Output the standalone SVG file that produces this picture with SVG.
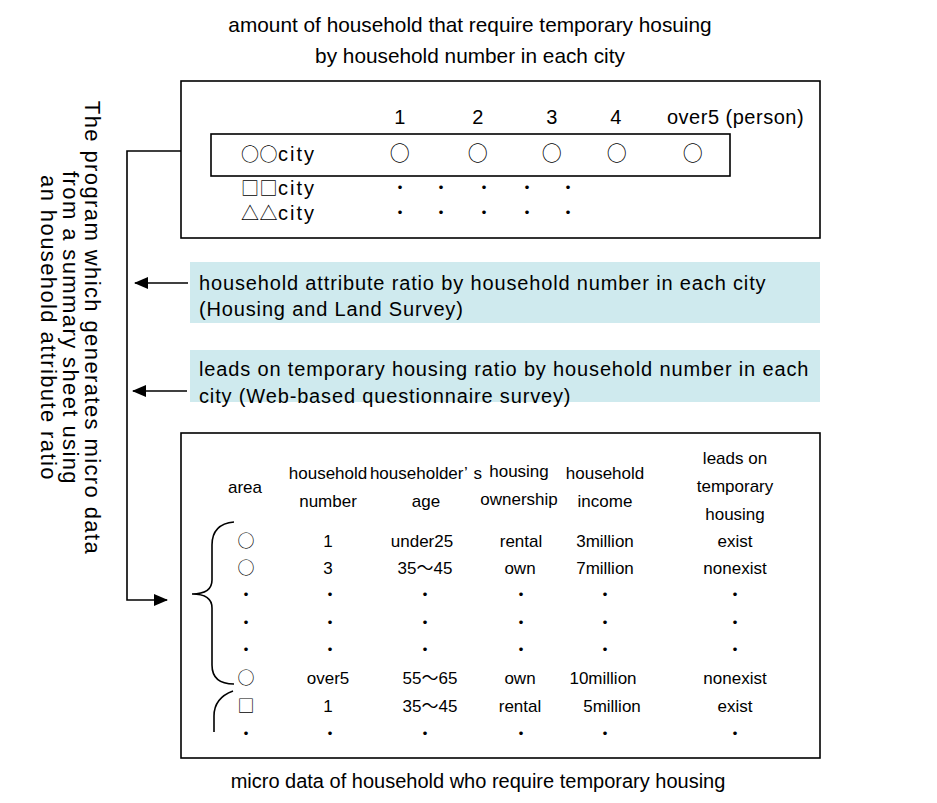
<svg xmlns="http://www.w3.org/2000/svg" width="937" height="803" viewBox="0 0 937 803">
<style>
text{font-family:"Liberation Sans","Noto Sans CJK JP",sans-serif;fill:#000}
.t{font-size:20.8px}
.cap{font-size:20px}
.v{font-size:22px;letter-spacing:1.4px}
.u{font-size:20px;letter-spacing:0.5px}
.q{font-size:20px;letter-spacing:0.85px}
.s{font-size:17px}
.m{text-anchor:middle}
.cjk{font-family:"Noto Sans CJK JP","Liberation Sans",sans-serif}
.box{fill:#fff;stroke:#000;stroke-width:1.6}
.teal{fill:#cfeaee}
.ln{fill:none;stroke:#000;stroke-width:1.6}
</style>
<defs>
<marker id="ah" markerUnits="userSpaceOnUse" markerWidth="14" markerHeight="12" refX="13" refY="6" orient="auto">
<path d="M0,0 L14,6 L0,12 Z" fill="#000"/>
</marker>
</defs>

<g id="title">
<text class="t m" x="470" y="32">amount of household that require temporary hosuing</text>
<text class="t m" x="470" y="63">by household number in each city</text>
</g>

<g id="program-label">
<text class="v m" transform="translate(85,328) rotate(90)">The program which generates micro data</text>
<text class="v m" transform="translate(63,328) rotate(90)">from a summary sheet using</text>
<text class="v m" transform="translate(41,328) rotate(90)">an household attribute ratio</text>
</g>

<g id="summary-sheet">
<rect class="box" x="181" y="81" width="639" height="157"/>
<rect class="box" x="211" y="134" width="519" height="42"/>
<text class="u m" x="400" y="124">1</text>
<text class="u m" x="478" y="124">2</text>
<text class="u m" x="552" y="124">3</text>
<text class="u m" x="616" y="124">4</text>
<text class="u" x="667" y="124">over5 (person)</text>
<text class="u" x="241" y="161"><tspan class="cjk" font-size="18">○○</tspan><tspan letter-spacing="2">city</tspan></text>
<text class="u m cjk" font-size="18" x="400" y="161">○</text>
<text class="u m cjk" font-size="18" x="478" y="161">○</text>
<text class="u m cjk" font-size="18" x="552" y="161">○</text>
<text class="u m cjk" font-size="18" x="617" y="161">○</text>
<text class="u m cjk" font-size="18" x="693" y="161">○</text>
<text class="u" x="241" y="195"><tspan class="cjk" font-size="18">□□</tspan><tspan letter-spacing="2">city</tspan></text>
<text class="u" x="241" y="220"><tspan class="cjk" font-size="18">△△</tspan><tspan letter-spacing="2">city</tspan></text>
<text class="s m cjk" x="400" y="194">・</text>
<text class="s m cjk" x="441" y="194">・</text>
<text class="s m cjk" x="484" y="194">・</text>
<text class="s m cjk" x="527" y="194">・</text>
<text class="s m cjk" x="568" y="194">・</text>
<text class="s m cjk" x="400" y="219">・</text>
<text class="s m cjk" x="441" y="219">・</text>
<text class="s m cjk" x="484" y="219">・</text>
<text class="s m cjk" x="527" y="219">・</text>
<text class="s m cjk" x="568" y="219">・</text>
</g>

<g id="attribute-ratio">
<rect class="teal" x="190" y="262" width="630" height="61"/>
<text class="q" x="199" y="290">household attribute ratio by household number in each city</text>
<text class="q" x="199" y="316">(Housing and Land Survey)</text>
</g>

<g id="leads-ratio">
<rect class="teal" x="190" y="350" width="630" height="52"/>
<text class="q" x="199" y="376">leads on temporary housing ratio by household number in each</text>
<text class="q" x="199" y="403">city (Web-based questionnaire survey)</text>
</g>

<g id="micro-data">
<rect class="box" x="181" y="433" width="639" height="325"/>
<text class="s m" x="245" y="493">area</text>
<text class="s m" x="328" y="479">household</text>
<text class="s m" x="328" y="507">number</text>
<text class="s m" x="426" y="479">householder’<tspan dx="6">s</tspan></text>
<text class="s m" x="426" y="507">age</text>
<text class="s m" x="519" y="477">housing</text>
<text class="s m" x="519" y="505">ownership</text>
<text class="s m" x="605" y="479">household</text>
<text class="s m" x="605" y="507">income</text>
<text class="s m" x="735" y="464">leads on</text>
<text class="s m" x="735" y="492">temporary</text>
<text class="s m" x="735" y="520">housing</text>

<text class="s m cjk" x="246" y="547">○</text>
<text class="s m" x="328" y="547">1</text>
<text class="s m" x="422" y="547">under25</text>
<text class="s m" x="521" y="547">rental</text>
<text class="s m" x="605" y="547">3million</text>
<text class="s m" x="735" y="547">exist</text>

<text class="s m cjk" x="246" y="574">○</text>
<text class="s m" x="328" y="574">3</text>
<text class="s m" x="425" y="574">35～45</text>
<text class="s m" x="520" y="574">own</text>
<text class="s m" x="605" y="574">7million</text>
<text class="s m" x="735" y="574">nonexist</text>

<text class="s m cjk" x="246" y="601">・</text><text class="s m cjk" x="330" y="601">・</text><text class="s m cjk" x="425" y="601">・</text><text class="s m cjk" x="521" y="601">・</text><text class="s m cjk" x="605" y="601">・</text><text class="s m cjk" x="735" y="601">・</text>
<text class="s m cjk" x="246" y="629">・</text><text class="s m cjk" x="330" y="629">・</text><text class="s m cjk" x="425" y="629">・</text><text class="s m cjk" x="521" y="629">・</text><text class="s m cjk" x="605" y="629">・</text><text class="s m cjk" x="735" y="629">・</text>
<text class="s m cjk" x="246" y="656">・</text><text class="s m cjk" x="330" y="656">・</text><text class="s m cjk" x="425" y="656">・</text><text class="s m cjk" x="521" y="656">・</text><text class="s m cjk" x="605" y="656">・</text><text class="s m cjk" x="735" y="656">・</text>

<text class="s m cjk" x="246" y="684">○</text>
<text class="s m" x="328" y="684">over5</text>
<text class="s m" x="430" y="684">55～65</text>
<text class="s m" x="520" y="684">own</text>
<text class="s m" x="603" y="684">10million</text>
<text class="s m" x="735" y="684">nonexist</text>

<text class="s m cjk" x="246" y="712">□</text>
<text class="s m" x="328" y="712">1</text>
<text class="s m" x="430" y="712">35～45</text>
<text class="s m" x="520" y="712">rental</text>
<text class="s m" x="612" y="712">5million</text>
<text class="s m" x="735" y="712">exist</text>

<text class="s m cjk" x="246" y="740">・</text><text class="s m cjk" x="330" y="740">・</text><text class="s m cjk" x="425" y="740">・</text><text class="s m cjk" x="521" y="740">・</text><text class="s m cjk" x="605" y="740">・</text><text class="s m cjk" x="735" y="740">・</text>

<path class="ln" d="M234,522 Q212,524 212,545 L212,580 Q212,594 192,594 Q212,594 212,608 L212,665 Q212,684 234,684"/>
<path class="ln" d="M233,691 Q214,698 214,716 L214,732"/>
</g>

<g id="caption">
<text class="cap m" x="478" y="788">micro data of household who require temporary housing</text>
</g>

<g id="connectors">
<path class="ln" d="M181,151 L127,151 L127,600 L167,600" marker-end="url(#ah)"/>
<path class="ln" d="M188,283 L135,283" marker-end="url(#ah)"/>
<path class="ln" d="M187,391 L133,391" marker-end="url(#ah)"/>
</g>
</svg>
